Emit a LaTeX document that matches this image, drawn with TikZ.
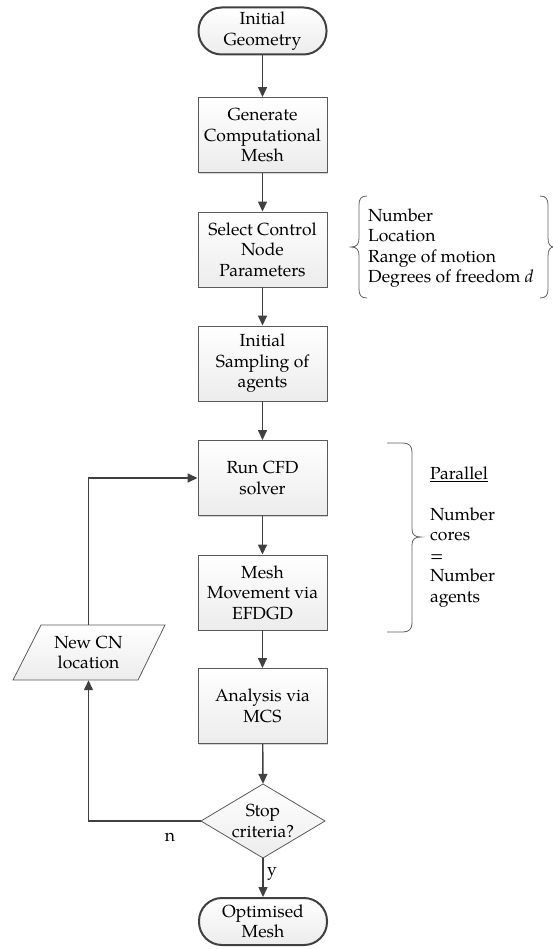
\documentclass[tikz,border=0pt]{standalone}
\usepackage{fontspec}
\setmainfont{TeX Gyre Pagella}
\usetikzlibrary{arrows.meta,shadows}
\definecolor{lc}{HTML}{404040}
\definecolor{bc}{HTML}{5A5A5A}
\definecolor{brc}{HTML}{606060}
\begin{document}
\begin{tikzpicture}[x=1pt,y=-1pt,
  font=\fontsize{17.5}{20.5}\selectfont,
  box/.style={draw=bc, line width=0.9pt, top color=white, bottom color=gray!15,
    minimum width=129pt, minimum height=75pt, align=center, inner sep=1pt,
    drop shadow={shadow xshift=1.3pt,shadow yshift=-1.3pt,opacity=0.35,fill=gray}},
  term/.style={draw=lc, line width=2pt, rounded corners=23pt, top color=white, bottom color=gray!15,
    minimum width=128pt, minimum height=47pt, align=center, inner sep=1pt},
  anchorbox/.style={minimum width=#1, align=center, inner sep=0pt},
  ar/.style={draw=lc, line width=1.4pt, -{Triangle[length=10pt,width=9pt]}},
  br/.style={draw=brc, line width=0.8pt},
  lbl/.style={inner sep=0pt}
]
\useasboundingbox (0,0) rectangle (552,949);

% main column
\node[term] (ig) at (262.5,31) {Initial\\Geometry};
\node[box] (gen) at (262.5,135) {Generate\\Computational\\Mesh};
\node[box] (sel) at (262.5,249.5) {Select Control\\Node\\Parameters};
\node[box] (samp) at (262.5,363.5) {Initial\\Sampling of\\agents};
\node[box] (run) at (262.5,478) {Run CFD\\solver};
\node[box] (mesh) at (262.5,592.5) {Mesh\\Movement via\\EFDGD};
\node[box] (ana) at (262.5,706) {Analysis via\\MCS};

% diamond
\shade[top color=white, bottom color=gray!15] (263,784) -- (325,821) -- (263,858) -- (201,821) -- cycle;
\draw[bc, line width=0.8pt] (263,784) -- (325,821) -- (263,858) -- (201,821) -- cycle;
\node[anchorbox=124pt, minimum height=74pt] (dia) at (263,821) {Stop\\criteria?};

\node[term] (opt) at (263,921.5) {Optimised\\Mesh};

% parallelogram
\shade[top color=white, bottom color=gray!15] (41,625) -- (165,625) -- (138,680) -- (13,680) -- cycle;
\draw[bc, line width=0.8pt] (41,625) -- (165,625) -- (138,680) -- (13,680) -- cycle;
\node[anchorbox=100pt, minimum height=55pt] (cn) at (88.5,652.5) {New CN\\location};

% connectors
\draw[ar] (ig) -- (gen);
\draw[ar] (gen) -- (sel);
\draw[ar] (sel) -- (samp);
\draw[ar] (samp) -- (run);
\draw[ar] (run) -- (mesh);
\draw[ar] (mesh) -- (ana);
\draw[ar] (ana) -- (dia.north);
\draw[ar] (dia.south) -- (opt);
\draw[ar] (dia.west) -| (cn.south);
\draw[ar] (cn.north) |- (run.west);

\node[lbl] (nlab) at (170,837) {n};
\node[lbl] (ylab) at (272,874) {y};

% parameter braces
\draw[br] (367,196) .. controls (361,196) and (359,199) .. (359,205) -- (359,238)
  .. controls (359,244) and (357,247) .. (351,247)
  .. controls (357,247) and (359,250) .. (359,256) -- (359,289)
  .. controls (359,295) and (361,298) .. (367,298);
\draw[br] (540,196) .. controls (546,196) and (548,199) .. (548,205) -- (548,238)
  .. controls (548,244) and (550,247) .. (554,247)
  .. controls (550,247) and (548,250) .. (548,256) -- (548,289)
  .. controls (548,295) and (546,298) .. (540,298);
\node[lbl, anchor=west, align=left] (params) at (368,248)
  {Number\\Location\\Range of motion\\Degrees of freedom \textit{d}};

% parallel brace
\draw[br] (387,443) -- (403,443) .. controls (409,443) and (412,446) .. (412,452) -- (412,529)
  .. controls (412,535) and (415,537) .. (421,537)
  .. controls (415,537) and (412,539) .. (412,545) -- (412,623)
  .. controls (412,629) and (409,632) .. (403,632) -- (387,632);
\node[lbl, anchor=west, align=left] (par) at (430,537)
  {\underline{Parallel}\\[20.5pt]Number\\cores\\=\\Number\\agents};
\end{tikzpicture}
\end{document}
